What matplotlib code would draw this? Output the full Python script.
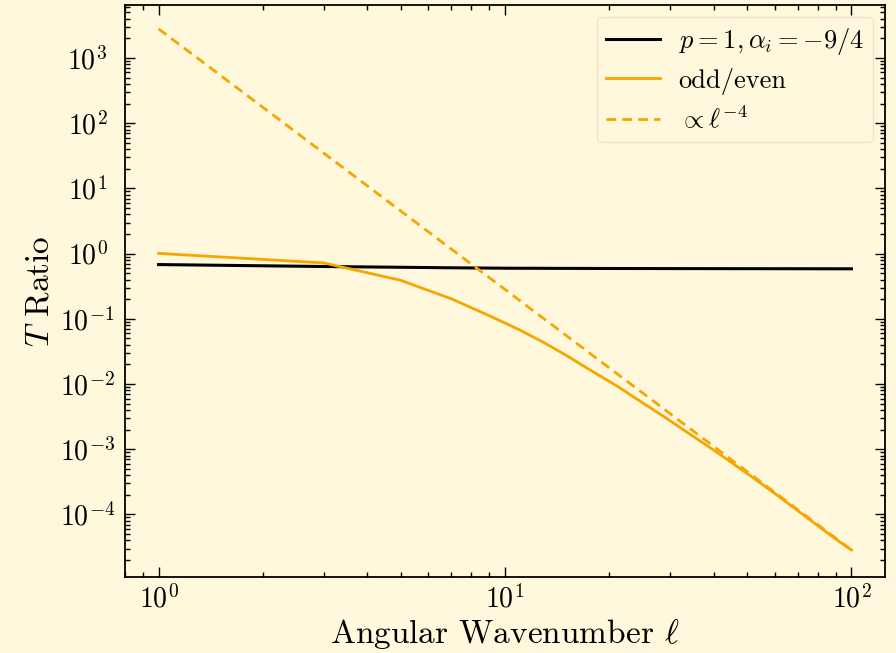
import matplotlib
matplotlib.use("Agg")
import matplotlib.pyplot as plt
from matplotlib.ticker import LogLocator, NullFormatter, FixedLocator

# ---------------- data ----------------
ell_black = [1, 3, 5, 7, 10, 15, 20, 30, 50, 70, 85, 100]
t_black = [0.68, 0.635, 0.618, 0.607, 0.598, 0.594, 0.592, 0.59, 0.588, 0.587, 0.586, 0.585]

ell_odd = [1, 3, 5, 7, 9, 11, 13, 15, 17, 19, 21, 25, 29, 35, 41, 51, 61, 71, 81, 91, 100]
t_odd = [1.01, 0.72, 0.39, 0.203, 0.112, 0.068, 0.0428, 0.0277, 0.0184, 0.0129, 0.0094,
         0.00513, 0.00308, 0.00157, 8.9e-4, 3.95e-4, 1.98e-4, 1.08e-4, 6.4e-5, 4.04e-5, 2.85e-5]

ell_pow = [1, 100]
t_pow = [2800, 2.85e-5]

xticks = [1, 10, 100]
yticks = [1e-4, 1e-3, 1e-2, 1e-1, 1e0, 1e1, 1e2, 1e3]

labels = [r"$p=1, \alpha_i=-9/4$", "odd/even", r"$\propto \ell^{-4}$"]

# ---------------- style ----------------
bg = "#fff8dc"
orange = "#f5a600"
plt.rcParams["font.family"] = ["cmr10", "DejaVu Serif"]
plt.rcParams["mathtext.fontset"] = "cm"
plt.rcParams["axes.unicode_minus"] = False
plt.rcParams["axes.formatter.use_mathtext"] = True

fig = plt.figure(figsize=(8.96, 6.53), dpi=100, facecolor=bg)
ax = fig.add_axes([125 / 896, 1 - 577 / 653, 760 / 896, 572 / 653])
ax.set_facecolor(bg)

ax.plot(ell_black, t_black, color="black", lw=2.2, label=labels[0])
ax.plot(ell_odd, t_odd, color=orange, lw=2.0, label=labels[1])
ax.plot(ell_pow, t_pow, color=orange, lw=2.0, ls=(0, (3.5, 2.2)), label=labels[2])

ax.set_xscale("log")
ax.set_yscale("log")
ax.set_xlim(0.80, 125)
ax.set_ylim(1.1e-5, 6.5e3)

ax.xaxis.set_major_locator(FixedLocator(xticks))
ax.yaxis.set_major_locator(FixedLocator(yticks))
for a in (ax.xaxis, ax.yaxis):
    a.set_minor_locator(LogLocator(base=10, subs=range(2, 10), numticks=300))
    a.set_minor_formatter(NullFormatter())
ax.set_xticklabels([r"$10^{%d}$" % e for e in (0, 1, 2)])
ax.set_yticklabels([r"$10^{%d}$" % e for e in range(-4, 4)])

ax.tick_params(which="both", direction="in", top=True, right=True, width=1.0, colors="black")
ax.tick_params(which="major", length=7)
ax.tick_params(which="minor", length=3.5)
ax.tick_params(axis="x", which="major", labelsize=20, pad=6)
ax.tick_params(axis="y", which="major", labelsize=20, pad=27)
for lab in ax.get_yticklabels():
    lab.set_ha("center")
for s in ax.spines.values():
    s.set_linewidth(1.3)

ax.set_xlabel(r"Angular Wavenumber $\ell$", fontsize=24, labelpad=2)
ax.set_ylabel(r"$T$ Ratio", fontsize=24, labelpad=4)

leg = ax.legend(loc="upper right", fontsize=19, frameon=True, fancybox=True,
                facecolor=bg, edgecolor="#f3dccc", framealpha=1.0,
                handlelength=2.05, handletextpad=0.7, borderpad=0.35,
                labelspacing=0.4, borderaxespad=0.45)
leg.get_frame().set_linewidth(0.8)

fig.savefig("out.png", dpi=100, facecolor=bg)
